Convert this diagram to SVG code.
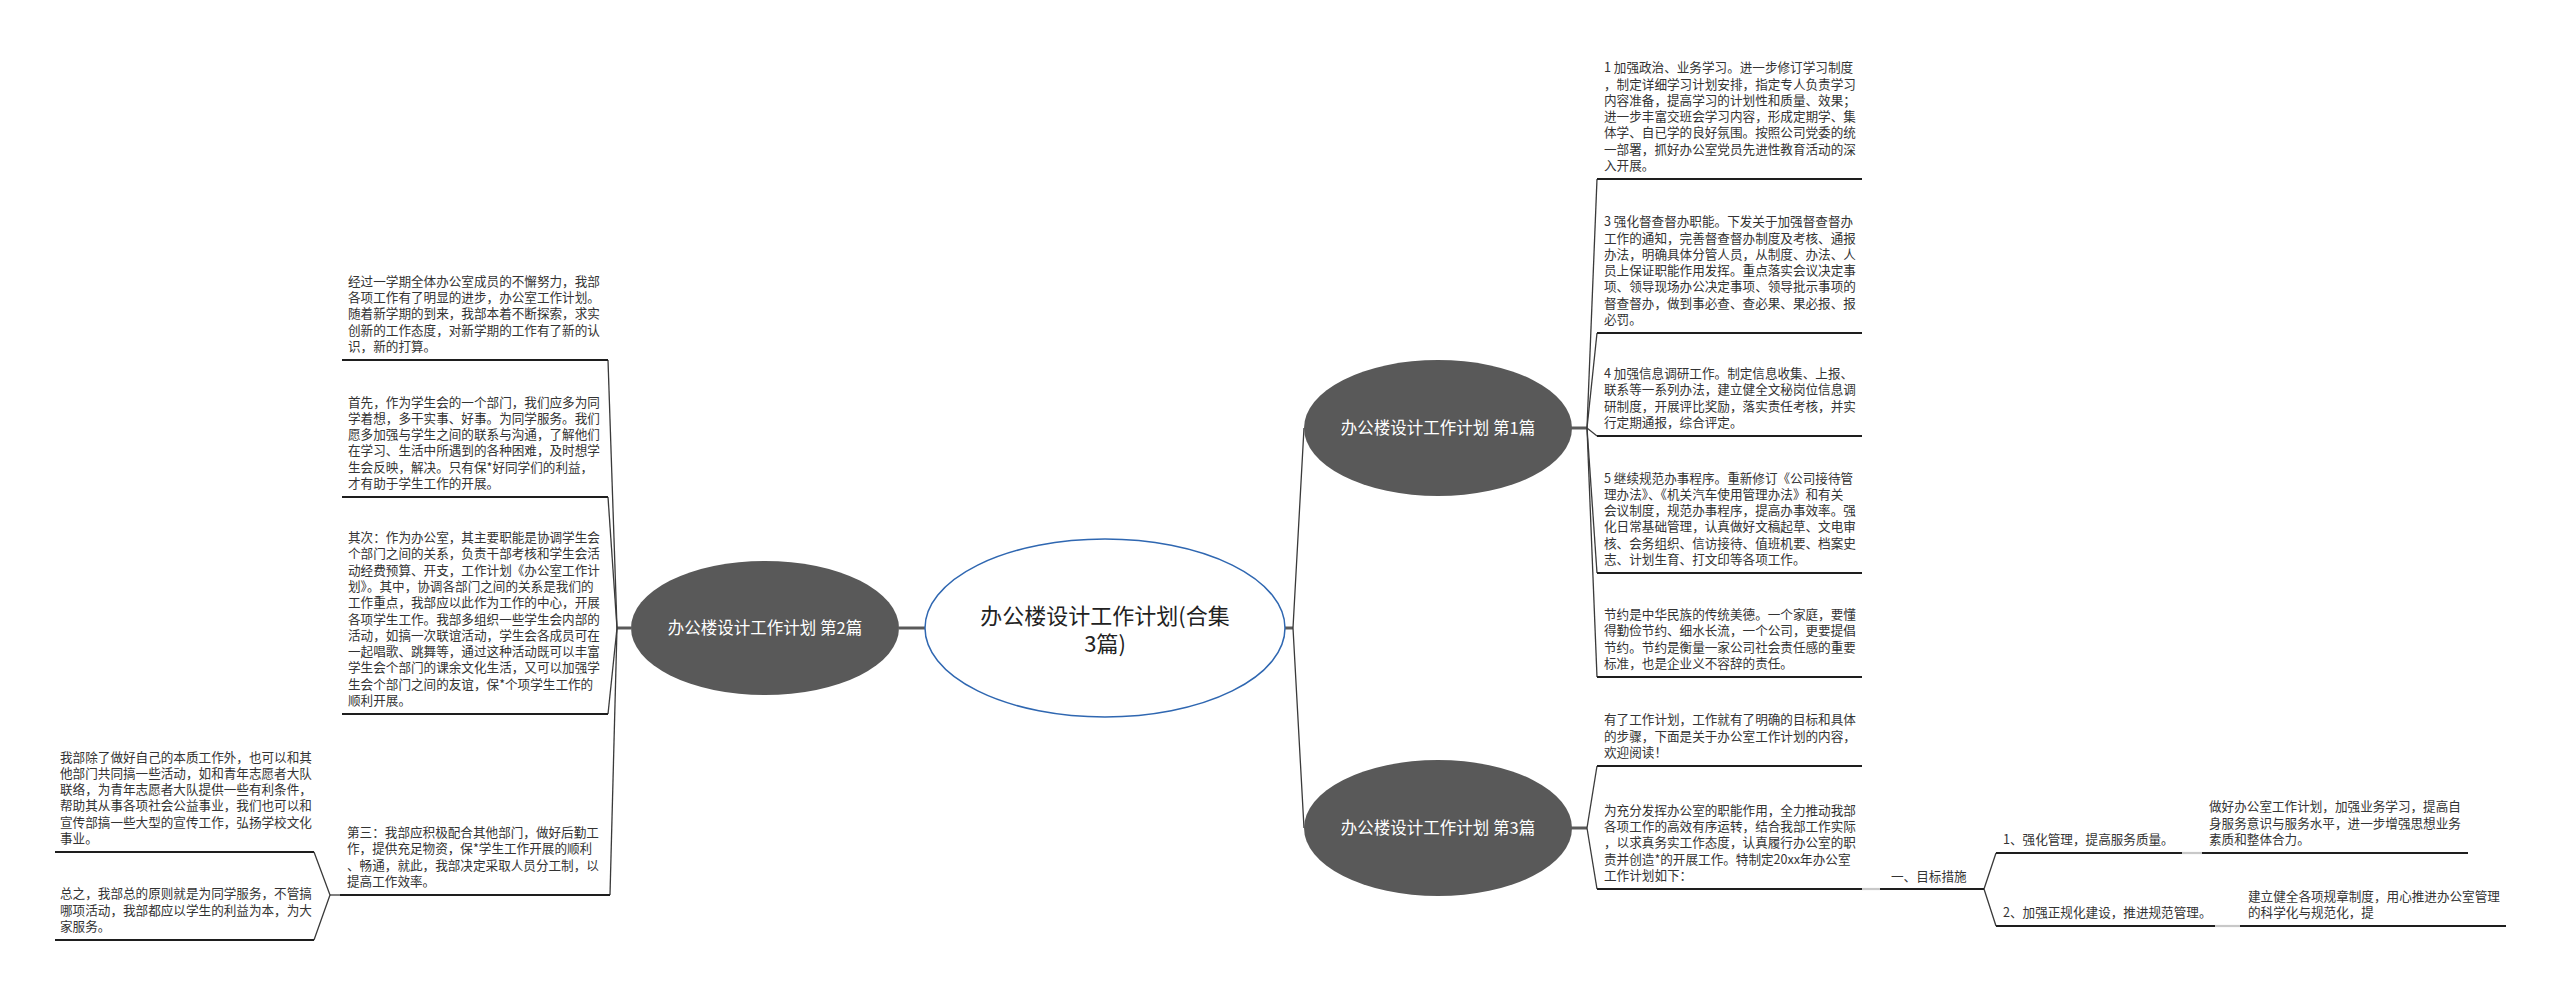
<svg xmlns="http://www.w3.org/2000/svg" width="2560" height="994" viewBox="0 0 2560 994">
<style>
.t{font-family:"Noto Sans CJK SC","Noto Sans",sans-serif;font-size:12.6px;fill:#333}
.nt{font-family:"Noto Sans CJK SC","Noto Sans",sans-serif;font-size:16.5px;fill:#fff;text-anchor:middle}
.ct{font-family:"Noto Sans CJK SC","Noto Sans",sans-serif;font-size:22px;fill:#222;text-anchor:middle}
.ul{stroke:#1e1e1e;stroke-width:2.2;fill:none}
.dn{fill:#595959}
.c{stroke:#3a3a3a;stroke-width:1.3;fill:none}
.s{stroke:#5a5a5a;stroke-width:3;fill:none}
.lt{stroke:#c8c8c8;stroke-width:2.2;fill:none}
</style>
<rect width="2560" height="994" fill="#fff"/>
<g id="connectors">
<line class="s" x1="899" y1="628" x2="926" y2="628"/>
<line class="s" x1="1284" y1="628" x2="1293" y2="628"/>
<polyline class="c" points="1304,428 1293,628 1304,828"/>
<line class="s" x1="1571" y1="428" x2="1587" y2="428"/>
<line class="c" x1="1587" y1="428" x2="1597" y2="179"/>
<line class="c" x1="1587" y1="428" x2="1597" y2="333"/>
<line class="c" x1="1587" y1="428" x2="1597" y2="436"/>
<line class="c" x1="1587" y1="428" x2="1597" y2="573"/>
<line class="c" x1="1587" y1="428" x2="1597" y2="677"/>
<line class="s" x1="1571" y1="828" x2="1587" y2="828"/>
<line class="c" x1="1587" y1="828" x2="1597" y2="766"/>
<line class="c" x1="1587" y1="828" x2="1597" y2="889"/>
<line class="s" x1="631" y1="628" x2="617" y2="628"/>
<line class="c" x1="617" y1="628" x2="608" y2="360"/>
<line class="c" x1="617" y1="628" x2="608" y2="497"/>
<line class="c" x1="617" y1="628" x2="608" y2="714"/>
<line class="c" x1="617" y1="628" x2="610" y2="895"/>
<line class="c" x1="340" y1="895" x2="330" y2="895"/>
<polyline class="c" points="314,852 330,895 314,940"/>
<line class="lt" x1="1862" y1="889" x2="1880" y2="889"/>
<polyline class="c" points="1996,853 1984,889 1996,926"/>
<line class="lt" x1="2182" y1="853" x2="2202" y2="853"/>
<line class="lt" x1="2215" y1="926" x2="2240" y2="926"/>
</g>
<g id="root">
<ellipse cx="1105" cy="628" rx="180" ry="89" fill="#fff" stroke="#2f67b1" stroke-width="1.5"/>
<text class="ct" x="1105" y="624">办公楼设计工作计划(合集</text>
<text class="ct" x="1105" y="652">3篇)</text>
</g>
<g id="n1">
<ellipse class="dn" cx="1438" cy="428" rx="134" ry="68"/>
<text class="nt" x="1438" y="434">办公楼设计工作计划 第1篇</text>
</g>
<g id="n2">
<ellipse class="dn" cx="765" cy="628" rx="134" ry="67"/>
<text class="nt" x="765" y="634">办公楼设计工作计划 第2篇</text>
</g>
<g id="n3">
<ellipse class="dn" cx="1438" cy="828" rx="134" ry="68"/>
<text class="nt" x="1438" y="834">办公楼设计工作计划 第3篇</text>
</g>
<g id="b1">
<text class="t"><tspan x="1604" y="72.2">1 加强政治、业务学习。进一步修订学习制度</tspan><tspan x="1604" y="88.5">，制定详细学习计划安排，指定专人负责学习</tspan><tspan x="1604" y="104.8">内容准备，提高学习的计划性和质量、效果；</tspan><tspan x="1604" y="121.1">进一步丰富交班会学习内容，形成定期学、集</tspan><tspan x="1604" y="137.4">体学、自已学的良好氛围。按照公司党委的统</tspan><tspan x="1604" y="153.7">一部署，抓好办公室党员先进性教育活动的深</tspan><tspan x="1604" y="170">入开展。</tspan></text>
<line class="ul" x1="1597" y1="179" x2="1862" y2="179"/>
</g>
<g id="b3">
<text class="t"><tspan x="1604" y="226.2">3 强化督查督办职能。下发关于加强督查督办</tspan><tspan x="1604" y="242.5">工作的通知，完善督查督办制度及考核、通报</tspan><tspan x="1604" y="258.8">办法，明确具体分管人员，从制度、办法、人</tspan><tspan x="1604" y="275.1">员上保证职能作用发挥。重点落实会议决定事</tspan><tspan x="1604" y="291.4">项、领导现场办公决定事项、领导批示事项的</tspan><tspan x="1604" y="307.7">督查督办，做到事必查、查必果、果必报、报</tspan><tspan x="1604" y="324">必罚。</tspan></text>
<line class="ul" x1="1597" y1="333" x2="1862" y2="333"/>
</g>
<g id="b4">
<text class="t"><tspan x="1604" y="378.1">4 加强信息调研工作。制定信息收集、上报、</tspan><tspan x="1604" y="394.4">联系等一系列办法，建立健全文秘岗位信息调</tspan><tspan x="1604" y="410.7">研制度，开展评比奖励，落实责任考核，并实</tspan><tspan x="1604" y="427">行定期通报，综合评定。</tspan></text>
<line class="ul" x1="1597" y1="436" x2="1862" y2="436"/>
</g>
<g id="b5">
<text class="t"><tspan x="1604" y="482.5">5 继续规范办事程序。重新修订《公司接待管</tspan><tspan x="1604" y="498.8">理办法》、《机关汽车使用管理办法》和有关</tspan><tspan x="1604" y="515.1">会议制度，规范办事程序，提高办事效率。强</tspan><tspan x="1604" y="531.4">化日常基础管理，认真做好文稿起草、文电审</tspan><tspan x="1604" y="547.7">核、会务组织、信访接待、值班机要、档案史</tspan><tspan x="1604" y="564">志、计划生育、打文印等各项工作。</tspan></text>
<line class="ul" x1="1597" y1="573" x2="1862" y2="573"/>
</g>
<g id="b6">
<text class="t"><tspan x="1604" y="619.1">节约是中华民族的传统美德。一个家庭，要懂</tspan><tspan x="1604" y="635.4">得勤俭节约、细水长流，一个公司，更要提倡</tspan><tspan x="1604" y="651.7">节约。节约是衡量一家公司社会责任感的重要</tspan><tspan x="1604" y="668">标准，也是企业义不容辞的责任。</tspan></text>
<line class="ul" x1="1597" y1="677" x2="1862" y2="677"/>
</g>
<g id="c1">
<text class="t"><tspan x="1604" y="724.4">有了工作计划，工作就有了明确的目标和具体</tspan><tspan x="1604" y="740.7">的步骤，下面是关于办公室工作计划的内容，</tspan><tspan x="1604" y="757">欢迎阅读！</tspan></text>
<line class="ul" x1="1597" y1="766" x2="1862" y2="766"/>
</g>
<g id="c2">
<text class="t"><tspan x="1604" y="814.8">为充分发挥办公室的职能作用，全力推动我部</tspan><tspan x="1604" y="831.1">各项工作的高效有序运转，结合我部工作实际</tspan><tspan x="1604" y="847.4">，以求真务实工作态度，认真履行办公室的职</tspan><tspan x="1604" y="863.7">责并创造*的开展工作。特制定20xx年办公室</tspan><tspan x="1604" y="880">工作计划如下：</tspan></text>
<line class="ul" x1="1597" y1="889" x2="1862" y2="889"/>
</g>
<g id="c3">
<text class="t" x="1891" y="881">一、目标措施</text>
<line class="ul" x1="1880" y1="889" x2="1984" y2="889"/>
</g>
<g id="c4">
<text class="t" x="2003" y="844">1、强化管理，提高服务质量。</text>
<line class="ul" x1="1996" y1="853" x2="2182" y2="853"/>
</g>
<g id="c5">
<text class="t"><tspan x="2209" y="811.4">做好办公室工作计划，加强业务学习，提高自</tspan><tspan x="2209" y="827.7">身服务意识与服务水平，进一步增强思想业务</tspan><tspan x="2209" y="844">素质和整体合力。</tspan></text>
<line class="ul" x1="2202" y1="853" x2="2468" y2="853"/>
</g>
<g id="c6">
<text class="t" x="2003" y="917">2、加强正规化建设，推进规范管理。</text>
<line class="ul" x1="1996" y1="926" x2="2215" y2="926"/>
</g>
<g id="c7">
<text class="t"><tspan x="2248" y="900.7">建立健全各项规章制度，用心推进办公室管理</tspan><tspan x="2248" y="917">的科学化与规范化，提</tspan></text>
<line class="ul" x1="2240" y1="926" x2="2506" y2="926"/>
</g>
<g id="l1">
<text class="t"><tspan x="348" y="285.8">经过一学期全体办公室成员的不懈努力，我部</tspan><tspan x="348" y="302.1">各项工作有了明显的进步，办公室工作计划。</tspan><tspan x="348" y="318.4">随着新学期的到来，我部本着不断探索，求实</tspan><tspan x="348" y="334.7">创新的工作态度，对新学期的工作有了新的认</tspan><tspan x="348" y="351">识，新的打算。</tspan></text>
<line class="ul" x1="342" y1="360" x2="608" y2="360"/>
</g>
<g id="l2">
<text class="t"><tspan x="348" y="406.5">首先，作为学生会的一个部门，我们应多为同</tspan><tspan x="348" y="422.8">学着想，多干实事、好事。为同学服务。我们</tspan><tspan x="348" y="439.1">愿多加强与学生之间的联系与沟通，了解他们</tspan><tspan x="348" y="455.4">在学习、生活中所遇到的各种困难，及时想学</tspan><tspan x="348" y="471.7">生会反映，解决。只有保*好同学们的利益，</tspan><tspan x="348" y="488">才有助于学生工作的开展。</tspan></text>
<line class="ul" x1="342" y1="497" x2="608" y2="497"/>
</g>
<g id="l3">
<text class="t"><tspan x="348" y="542">其次：作为办公室，其主要职能是协调学生会</tspan><tspan x="348" y="558.3">个部门之间的关系，负责干部考核和学生会活</tspan><tspan x="348" y="574.6">动经费预算、开支，工作计划《办公室工作计</tspan><tspan x="348" y="590.9">划》。其中，协调各部门之间的关系是我们的</tspan><tspan x="348" y="607.2">工作重点，我部应以此作为工作的中心，开展</tspan><tspan x="348" y="623.5">各项学生工作。我部多组织一些学生会内部的</tspan><tspan x="348" y="639.8">活动，如搞一次联谊活动，学生会各成员可在</tspan><tspan x="348" y="656.1">一起唱歌、跳舞等，通过这种活动既可以丰富</tspan><tspan x="348" y="672.4">学生会个部门的课余文化生活，又可以加强学</tspan><tspan x="348" y="688.7">生会个部门之间的友谊，保*个项学生工作的</tspan><tspan x="348" y="705">顺利开展。</tspan></text>
<line class="ul" x1="342" y1="714" x2="608" y2="714"/>
</g>
<g id="l4">
<text class="t"><tspan x="347" y="837.1">第三：我部应积极配合其他部门，做好后勤工</tspan><tspan x="347" y="853.4">作，提供充足物资，保*学生工作开展的顺利</tspan><tspan x="347" y="869.7">、畅通，就此，我部决定采取人员分工制，以</tspan><tspan x="347" y="886">提高工作效率。</tspan></text>
<line class="ul" x1="340" y1="895" x2="610" y2="895"/>
</g>
<g id="l5">
<text class="t"><tspan x="60" y="761.5">我部除了做好自己的本质工作外，也可以和其</tspan><tspan x="60" y="777.8">他部门共同搞一些活动，如和青年志愿者大队</tspan><tspan x="60" y="794.1">联络，为青年志愿者大队提供一些有利条件，</tspan><tspan x="60" y="810.4">帮助其从事各项社会公益事业，我们也可以和</tspan><tspan x="60" y="826.7">宣传部搞一些大型的宣传工作，弘扬学校文化</tspan><tspan x="60" y="843">事业。</tspan></text>
<line class="ul" x1="55" y1="852" x2="314" y2="852"/>
</g>
<g id="l6">
<text class="t"><tspan x="60" y="898.4">总之，我部总的原则就是为同学服务，不管搞</tspan><tspan x="60" y="914.7">哪项活动，我部都应以学生的利益为本，为大</tspan><tspan x="60" y="931">家服务。</tspan></text>
<line class="ul" x1="55" y1="940" x2="314" y2="940"/>
</g>
</svg>
